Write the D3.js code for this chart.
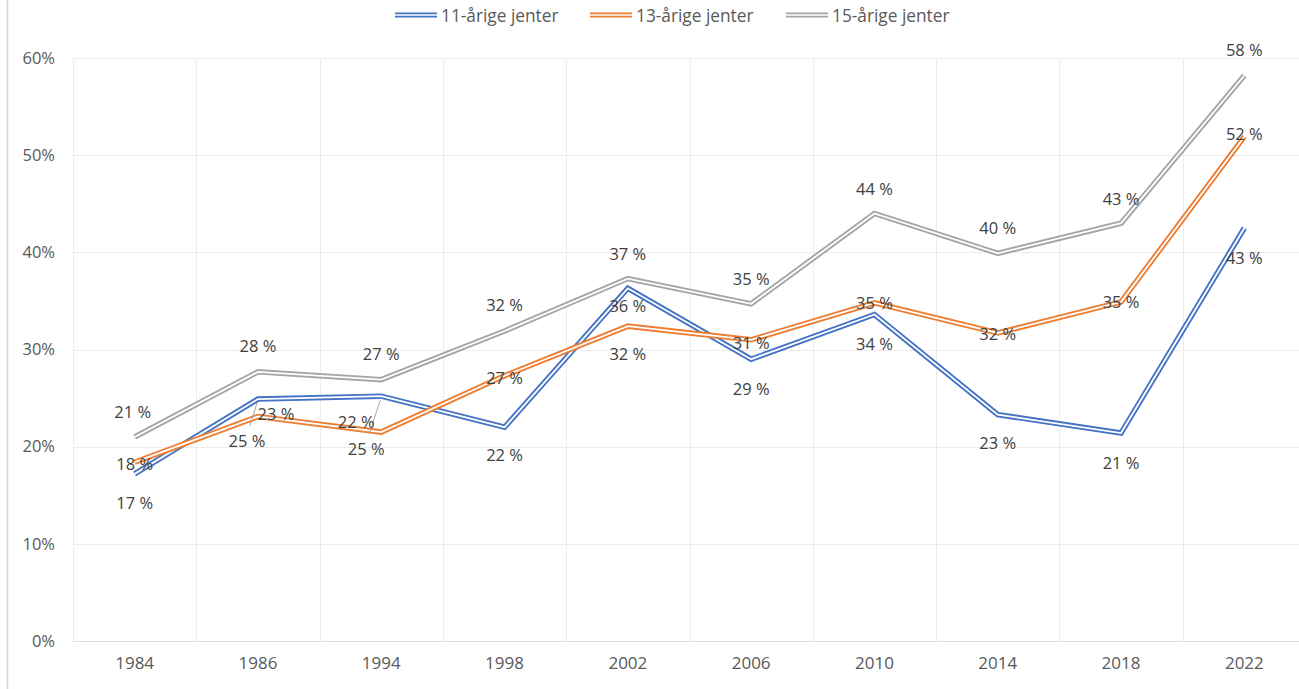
<!DOCTYPE html>
<html>
<head>
<meta charset="utf-8">
<script src="https://cdn.jsdelivr.net/npm/d3@7"></script>
<style>
  html, body { margin: 0; padding: 0; background: #fff; }
  svg { display: block; font-family: "Open Sans", "Noto Sans", sans-serif; }
</style>
</head>
<body>
<svg id="chart" width="1299" height="689"></svg>
<script>
// ---- data ----
const years = ["1984", "1986", "1994", "1998", "2002", "2006", "2010", "2014", "2018", "2022"];
const seriesNames = ["11-årige jenter", "13-årige jenter", "15-årige jenter"];
const girls11 = [17.2, 24.9, 25.2, 22.0, 36.3, 29.0, 33.6, 23.3, 21.4, 42.5];
const girls13 = [18.4, 23.1, 21.5, 27.3, 32.4, 31.0, 34.8, 31.7, 34.9, 51.9];
const girls15 = [21.0, 27.7, 26.9, 31.9, 37.3, 34.7, 44.0, 39.9, 43.0, 58.2];
const yTicks = [0, 10, 20, 30, 40, 50, 60];

// ---- layout / styling (not data) ----
const colors = ["#4472C4", "#ED7D31", "#A5A5A5"];
// data label offsets (dx, dy) in px relative to each point
const labelOffsets = [
  [[0,29],[-11,41],[-15,52],[0,27],[0,17],[0,29],[0,29],[0,28],[0,29],[0,29]],
  [[0,1],[18,-3],[-25,-11],[0,2],[0,27],[0,3],[0,0],[0,1],[0,0],[0,-3]],
  [[-2,-25],[0,-26],[0,-26],[0,-27],[0,-25],[0,-25],[0,-25],[0,-26],[0,-25],[0,-26]]
];
// leader lines: [series, index]
const leaders = [[0,1],[0,2]];

(function () {
const svg = d3.select("#chart");
const W = 1299, H = 689;
const mLeft = 73, mRight = 1306, mTop = 58, mBottom = 641;

const x = d3.scaleBand().domain(years).range([mLeft, mRight]).padding(0);
const y = d3.scaleLinear().domain([0, 60]).range([mBottom, mTop]);

// left frame line
svg.append("line").attr("x1", 7.5).attr("x2", 7.5).attr("y1", 0).attr("y2", H)
  .attr("stroke", "#d6d6d6").attr("stroke-width", 1.5);

// horizontal gridlines
svg.append("g").selectAll("line").data(yTicks).join("line")
  .attr("x1", mLeft).attr("x2", mRight)
  .attr("y1", d => Math.round(y(d)) + 0.5).attr("y2", d => Math.round(y(d)) + 0.5)
  .attr("stroke", d => d === 0 ? "#dedede" : "#ececec").attr("stroke-width", 1);

// vertical gridlines at band boundaries
svg.append("g").selectAll("line").data(years).join("line")
  .attr("x1", d => Math.round(x(d)) + 0.5).attr("x2", d => Math.round(x(d)) + 0.5)
  .attr("y1", mTop).attr("y2", mBottom)
  .attr("stroke", "#ececec").attr("stroke-width", 1);

// y-axis labels
const yAxis = d3.axisLeft(y).tickValues(yTicks).tickFormat(d => d + "%").tickSize(0).tickPadding(0);
const gy = svg.append("g").attr("transform", `translate(${mLeft - 18},0)`).call(yAxis);
gy.select(".domain").remove();
gy.selectAll("text").attr("fill", "#595959").style("font-size", "16.5px")
  .style("font-family", "'Open Sans', sans-serif");

// x-axis labels
const xAxis = d3.axisBottom(x).tickSize(0).tickPadding(0);
const gx = svg.append("g").attr("transform", `translate(0,${mBottom + 16})`).call(xAxis);
gx.select(".domain").remove();
gx.selectAll("text").attr("fill", "#595959").style("font-size", "17px")
  .style("font-family", "'Open Sans', sans-serif");

// lines (double-line style)
const allSeries = [girls11, girls13, girls15];
const line = d3.line().x((d, i) => x(years[i]) + x.bandwidth() / 2).y(d => y(d));

allSeries.forEach((vals, s) => {
  const g = svg.append("g");
  g.append("path").datum(vals).attr("d", line).attr("fill", "none")
    .attr("stroke", colors[s]).attr("stroke-width", 5.5).attr("stroke-linejoin", "miter");
  g.append("path").datum(vals).attr("d", line).attr("fill", "none")
    .attr("stroke", "#fff").attr("stroke-width", 1.8).attr("stroke-linejoin", "miter");
});

// leader lines
leaders.forEach(([s, i]) => {
  const px = x(years[i]) + x.bandwidth() / 2, py = y(allSeries[s][i]);
  const [dx, dy] = labelOffsets[s][i];
  svg.append("line")
    .attr("x1", px + dx + 3).attr("y1", py + dy - 14)
    .attr("x2", px - 1).attr("y2", py + 4)
    .attr("stroke", "#a6a6a6").attr("stroke-width", 1);
});

// data labels
const fmt = d3.format(".0f");
allSeries.forEach((vals, s) => {
  svg.append("g").selectAll("text").data(vals).join("text")
    .attr("x", (d, i) => x(years[i]) + x.bandwidth() / 2 + labelOffsets[s][i][0])
    .attr("y", (d, i) => y(d) + labelOffsets[s][i][1])
    .attr("text-anchor", "middle").attr("dominant-baseline", "central")
    .attr("fill", "#404040").style("font-size", "16.5px")
    .text(d => fmt(d) + " %");
});

// legend
const legendX = [395, 590, 786];
const legend = svg.append("g");
seriesNames.forEach((name, s) => {
  const gx0 = legendX[s];
  legend.append("line").attr("x1", gx0).attr("x2", gx0 + 42).attr("y1", 15).attr("y2", 15)
    .attr("stroke", colors[s]).attr("stroke-width", 5);
  legend.append("line").attr("x1", gx0).attr("x2", gx0 + 42).attr("y1", 15).attr("y2", 15)
    .attr("stroke", "#fff").attr("stroke-width", 1.6);
  legend.append("text").attr("x", gx0 + 46).attr("y", 15)
    .attr("dominant-baseline", "central").attr("fill", "#595959")
    .style("font-size", "17.3px").text(name);
});
})();
</script>
</body>
</html>
